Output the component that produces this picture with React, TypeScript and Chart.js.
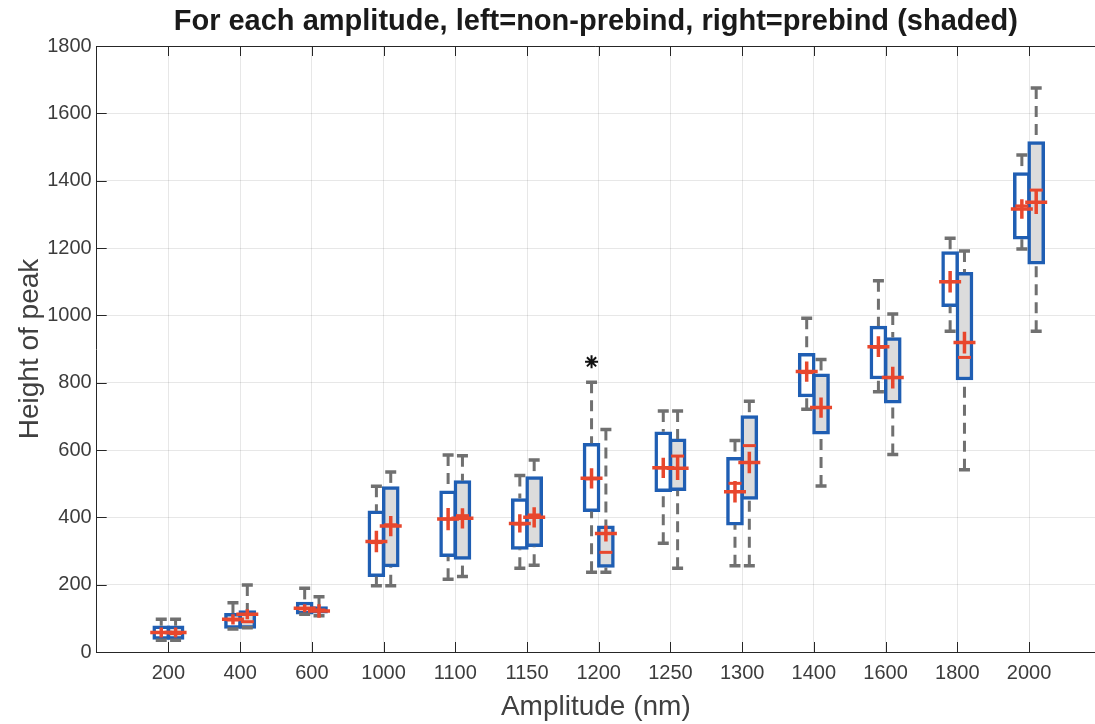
import React, { useEffect, useRef } from 'react';
import { Chart, registerables } from 'chart.js';

Chart.register(...registerables);

// ---- Data ----
const amplitudes = ['200', '400', '600', '1000', '1100', '1150', '1200', '1250', '1300', '1400', '1600', '1800', '2000'];

// non-prebind (left, unshaded)
const minL = [35, 68, 112, 197, 216, 249, 237, 323, 256, 721, 773, 953, 1197];
const q1L = [37, 70, 112, 224, 283, 305, 417, 476, 377, 758, 811, 1026, 1226];
const medL = [58, 95, 128, 325, 395, 380, 514, 547, 501, 830, 905, 1100, 1325];
const q3L = [78, 115, 148, 419, 479, 456, 620, 654, 578, 887, 968, 1189, 1424];
const maxL = [97, 146, 189, 492, 585, 524, 801, 716, 628, 991, 1103, 1229, 1476];
const meanL = [58, 97, 130, 328, 395, 382, 516, 547, 476, 833, 907, 1100, 1316];
const errL = [15, 15, 12, 32, 33, 27, 30, 30, 32, 30, 31, 32, 29];

// prebind (right, shaded)
const minR = [35, 72, 108, 197, 224, 258, 237, 249, 256, 493, 587, 541, 953];
const q1R = [37, 70, 115, 253, 275, 313, 251, 479, 453, 647, 739, 808, 1152];
const medR = [55, 90, 125, 378, 405, 407, 296, 582, 613, 726, 815, 875, 1372];
const q3R = [78, 123, 135, 491, 509, 521, 375, 633, 702, 826, 934, 1128, 1516];
const maxR = [97, 199, 164, 535, 583, 570, 661, 716, 745, 869, 1004, 1191, 1675];
const meanR = [58, 112, 122, 374, 397, 400, 352, 546, 563, 726, 815, 919, 1336];
const errR = [15, 15, 20, 30, 30, 30, 24, 35, 32, 30, 32, 32, 35];

// outliers: [category index, group (0 = left, 1 = right), value]
const outlierCat = [6];
const outlierGroup = [0];
const outlierVal = [862];

const yTicks = [0, 200, 400, 600, 800, 1000, 1200, 1400, 1600, 1800];

// ---- Styles ----
const BLUE = '#1f5eb3';
const RED = '#e8472d';
const GRAY = '#707070';
const SHADE = '#dcdcdc';
const AXIS = '#262626';
const GRID = 'rgba(38,38,38,0.11)';
const TICKCOL = '#3c3c3c';
const FONT = "'Liberation Sans', Arial, Helvetica, sans-serif";
const OFF = 0.1;

export default function App() {
  const ref = useRef<HTMLCanvasElement>(null);

  useEffect(() => {
    const canvas = ref.current;
    if (!canvas) return;

    const extras = {
      id: 'boxExtras',
      beforeDatasetsDraw(chart: any) {
        const { ctx, chartArea: a, scales } = chart;
        const x = scales.x;
        const y = scales.y;
        ctx.save();
        ctx.strokeStyle = AXIS;
        ctx.lineWidth = 1;
        ctx.beginPath();
        ctx.moveTo(a.left, a.top + 0.5);
        ctx.lineTo(a.right, a.top + 0.5);
        amplitudes.forEach((_, i) => {
          const px = Math.round(x.getPixelForValue(i + 1)) + 0.5;
          ctx.moveTo(px, a.bottom);
          ctx.lineTo(px, a.bottom - 10);
          ctx.moveTo(px, a.top);
          ctx.lineTo(px, a.top + 10);
        });
        yTicks.forEach((v) => {
          const py = Math.round(y.getPixelForValue(v)) + 0.5;
          ctx.moveTo(a.left, py);
          ctx.lineTo(a.left + 10, py);
        });
        ctx.stroke();
        ctx.restore();
      },
      afterDatasetsDraw(chart: any) {
        const { ctx, scales } = chart;
        const x = scales.x;
        const y = scales.y;
        const groups = [
          { off: -OFF, mn: minL, q1: q1L, md: medL, q3: q3L, mx: maxL, mean: meanL, err: errL },
          { off: OFF, mn: minR, q1: q1R, md: medR, q3: q3R, mx: maxR, mean: meanR, err: errR },
        ];
        ctx.save();
        ctx.lineCap = 'butt';
        groups.forEach((g) => {
          amplitudes.forEach((_, i) => {
            const cx = x.getPixelForValue(i + 1 + g.off);
            const yMax = y.getPixelForValue(g.mx[i]);
            const yMin = y.getPixelForValue(g.mn[i]);
            const yQ3 = y.getPixelForValue(g.q3[i]);
            const yQ1 = y.getPixelForValue(g.q1[i]);
            // dashed whiskers (from cap toward box)
            ctx.strokeStyle = GRAY;
            ctx.lineWidth = 3;
            ctx.setLineDash([11, 7]);
            if (yMax < yQ3) {
              ctx.beginPath();
              ctx.moveTo(cx, yMax);
              ctx.lineTo(cx, yQ3);
              ctx.stroke();
            }
            if (yMin > yQ1) {
              ctx.beginPath();
              ctx.moveTo(cx, yMin);
              ctx.lineTo(cx, yQ1);
              ctx.stroke();
            }
            ctx.setLineDash([]);
            // caps
            ctx.lineWidth = 3.5;
            ctx.beginPath();
            ctx.moveTo(cx - 5.5, yMax);
            ctx.lineTo(cx + 5.5, yMax);
            ctx.moveTo(cx - 5.5, yMin);
            ctx.lineTo(cx + 5.5, yMin);
            ctx.stroke();
            // median
            ctx.strokeStyle = RED;
            ctx.lineWidth = 3;
            const yMed = y.getPixelForValue(g.md[i]);
            ctx.beginPath();
            ctx.moveTo(cx - 6.5, yMed);
            ctx.lineTo(cx + 6.5, yMed);
            ctx.stroke();
            // mean with error bar
            const yMean = y.getPixelForValue(g.mean[i]);
            const yHi = y.getPixelForValue(g.mean[i] + g.err[i]);
            const yLo = y.getPixelForValue(g.mean[i] - g.err[i]);
            ctx.lineWidth = 3.5;
            ctx.beginPath();
            ctx.moveTo(cx - 11, yMean);
            ctx.lineTo(cx + 11, yMean);
            ctx.moveTo(cx, yHi);
            ctx.lineTo(cx, yLo);
            ctx.stroke();
          });
        });
        ctx.restore();
      },
    };

    const chart = new Chart(canvas, {
      type: 'bar',
      data: {
        datasets: [
          {
            label: 'non-prebind',
            data: amplitudes.map((_, i) => ({ x: i + 1 - OFF, y: [q1L[i], q3L[i]] })) as any,
            backgroundColor: '#ffffff',
            borderColor: BLUE,
            borderWidth: 3.5,
            borderSkipped: false,
            barThickness: 17,
            grouped: false,
            order: 2,
          } as any,
          {
            label: 'prebind',
            data: amplitudes.map((_, i) => ({ x: i + 1 + OFF, y: [q1R[i], q3R[i]] })) as any,
            backgroundColor: SHADE,
            borderColor: BLUE,
            borderWidth: 3.5,
            borderSkipped: false,
            barThickness: 17,
            grouped: false,
            order: 1,
          } as any,
          {
            type: 'scatter',
            label: 'outliers',
            data: outlierVal.map((v, k) => ({ x: outlierCat[k] + 1 + (outlierGroup[k] === 0 ? -OFF : OFF), y: v })),
            pointStyle: 'star',
            pointRadius: 6.5,
            borderColor: '#111111',
            backgroundColor: '#111111',
            borderWidth: 2,
            order: 0,
          } as any,
        ],
      },
      options: {
        responsive: false,
        animation: false,
        events: [],
        layout: { padding: 0, autoPadding: false },
        plugins: {
          legend: { display: false },
          tooltip: { enabled: false },
          title: {
            display: true,
            fullSize: false,
            text: 'For each amplitude, left=non-prebind, right=prebind (shaded)',
            color: '#1a1a1a',
            font: { family: FONT, size: 29, weight: 'bold', lineHeight: 1.2 },
            padding: { top: 5, bottom: 6.2 },
          },
        },
        scales: {
          x: {
            type: 'linear',
            min: 0,
            max: 13.92,
            offset: false,
            afterBuildTicks: (s: any) => {
              s.ticks = amplitudes.map((_, i) => ({ value: i + 1 }));
            },
            afterFit: (s: any) => {
              s.height = 72;
              s.paddingLeft = 0;
              s.paddingRight = 0;
            },
            ticks: {
              autoSkip: false,
              maxRotation: 0,
              padding: 9,
              color: TICKCOL,
              font: { family: FONT, size: 20 },
              callback: (v: any) => amplitudes[Math.round(Number(v)) - 1] ?? '',
            },
            grid: { color: GRID, drawTicks: false, lineWidth: 1, offset: false },
            border: { display: true, color: AXIS, width: 1 },
            title: {
              display: true,
              text: 'Amplitude (nm)',
              color: '#404040',
              font: { family: FONT, size: 28, lineHeight: 1.2 },
              padding: { top: 0, bottom: 0 },
            },
          },
          y: {
            type: 'linear',
            min: 0,
            max: 1800,
            afterFit: (s: any) => {
              s.width = 96.7;
            },
            ticks: {
              stepSize: 200,
              padding: 5,
              color: TICKCOL,
              font: { family: FONT, size: 20 },
              callback: (v: any) => String(v),
            },
            grid: { color: GRID, drawTicks: false, lineWidth: 1 },
            border: { display: true, color: AXIS, width: 1 },
            title: {
              display: true,
              text: 'Height of peak',
              color: '#404040',
              font: { family: FONT, size: 28, lineHeight: 1.2 },
              padding: { top: 13, bottom: 0 },
            },
          },
        },
      } as any,
      plugins: [extras],
    });

    return () => chart.destroy();
  }, []);

  return (
    <div style={{ position: 'fixed', left: 0, top: 0, width: 1095, height: 724, background: '#ffffff' }}>
      <canvas ref={ref} width={1095} height={724} style={{ width: 1095, height: 724, display: 'block' }} />
    </div>
  );
}
